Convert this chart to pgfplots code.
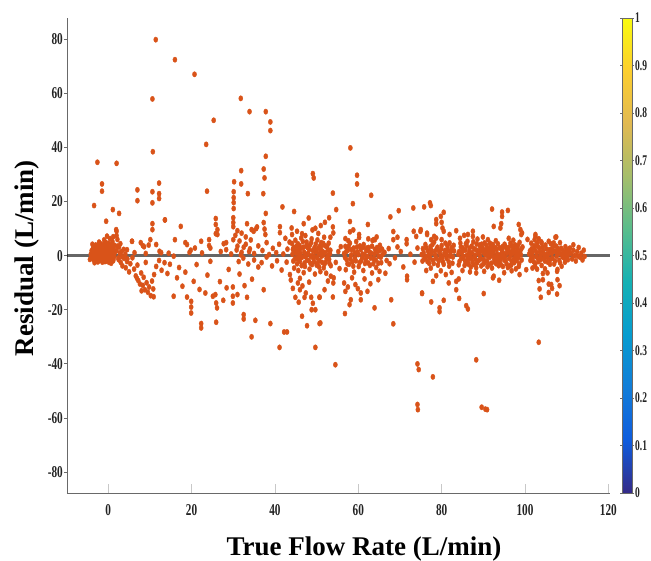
\documentclass[border=0pt]{standalone}
\usepackage{pgfplots}
\pgfplotsset{compat=1.18}
\usepackage{fontspec}
\setmainfont{Liberation Serif}
\newfontfamily\tickfont[FakeStretch=0.68]{Liberation Serif}
\newfontfamily\cbfont[FakeStretch=0.64]{Liberation Serif}
\definecolor{dotc}{RGB}{217,83,25}
\definecolor{tickc}{RGB}{35,35,35}
\definecolor{axc}{RGB}{105,105,105}
\definecolor{xtc}{RGB}{200,200,200}
\pgfplotsset{
  colormap={parula}{rgb255=(53,42,135) rgb255=(15,92,221) rgb255=(18,125,216) rgb255=(7,156,207) rgb255=(21,177,180) rgb255=(89,189,140) rgb255=(165,190,107) rgb255=(225,185,82) rgb255=(252,206,46) rgb255=(249,251,14)},
  dots/.style={only marks, mark=*, color=dotc, mark size=2.05pt, mark options={draw=dotc, fill=dotc, yscale=1.3}}
}
\begin{document}
\begin{tikzpicture}
\useasboundingbox (-67pt,-67pt) rectangle (584pt,493pt);
\begin{axis}[
  at={(0,0)}, anchor=south west,
  scale only axis, width=543pt, height=475pt,
  xmin=-9.9, xmax=120.4, ymin=-87.7, ymax=87.8,
  axis x line*=bottom, axis y line*=left,
  axis line style={axc, line width=0.9pt},
  tick align=outside, major tick length=3pt,
  every tick/.style={axc, line width=0.8pt},
  xtick style={draw=none},
  xtick={0,20,...,120}, ytick={-80,-60,...,80},
  /pgf/number format/assume math mode=true,
  tick label style={font=\tickfont\bfseries\fontsize{16.5}{18}\selectfont, text=tickc},
  xticklabel style={yshift=-5pt},
  yticklabel style={inner sep=1pt},
  xlabel={True Flow Rate (L/min)},
  ylabel={Residual (L/min)},
  label style={font=\bfseries\fontsize{27}{30}\selectfont},
  xlabel style={at={(axis description cs:0.547,0)}, anchor=base, yshift=-62pt},
  ylabel style={at={(axis description cs:-0.0626,0.494)}, anchor=base},
  colorbar, point meta min=0, point meta max=1, colormap name=parula,
  colorbar style={
    scale only axis, width=10pt, height=475pt,
    at={(parent axis.south east)}, anchor=south west, xshift=3.5pt,
    ytick={0,0.1,...,1}, ymin=0, ymax=1,
    /pgf/number format/assume math mode=true,
    yticklabel style={font=\cbfont\bfseries\fontsize{14.8}{16}\selectfont, text=tickc, /pgf/number format/fixed, /pgf/number format/assume math mode=true, inner sep=1pt},
    axis line style={axc, line width=0.6pt},
    major tick length=2pt, tick align=outside,
    every tick/.style={axc, line width=0.6pt},
  },
]
\draw[xtc, line width=0.8pt] (axis cs:0,-87.7) -- (axis cs:0,-84.4);
\draw[xtc, line width=0.8pt] (axis cs:20,-87.7) -- (axis cs:20,-84.4);
\draw[xtc, line width=0.8pt] (axis cs:40,-87.7) -- (axis cs:40,-84.4);
\draw[xtc, line width=0.8pt] (axis cs:60,-87.7) -- (axis cs:60,-84.4);
\draw[xtc, line width=0.8pt] (axis cs:80,-87.7) -- (axis cs:80,-84.4);
\draw[xtc, line width=0.8pt] (axis cs:100,-87.7) -- (axis cs:100,-84.4);
\draw[xtc, line width=0.8pt] (axis cs:120,-87.7) -- (axis cs:120,-84.4);
% cluster near 0
\addplot[dots] coordinates {
(-4.2,0.5)(-4,1.8)(-3.9,-0.8)(-3.7,2.6)(-3.6,0)(-3.5,-1.5)(-3.4,1.2)(-3.2,3.1)(-3.1,-0.3)(-3,0.9)(-2.9,-2.1)(-2.8,2)(-2.7,0.3)(-2.6,-1)(-2.5,3.6)(-2.4,1.5)(-2.3,-0.5)(-2.2,0.8)(-2.1,2.7)(-2,-1.8)(-1.9,0.1)(-1.8,1.9)(-1.7,-0.9)(-1.6,3.2)(-1.5,0.6)(-1.4,-2.4)(-1.3,1.3)(-1.2,4.1)(-1.1,-0.2)(-1,2.2)(-0.9,-1.3)(-0.8,0.7)(-0.7,3.5)(-0.6,-0.6)(-0.5,1.6)(-0.4,-2)(-0.3,2.9)(-0.2,0.2)(-0.1,-1.1)(0,1)(0.1,4.5)(0.2,-0.4)(0.3,2.4)(0.4,-1.6)(0.5,0.5)(0.6,3)(0.7,-2.8)(0.8,1.7)(0.9,-0.7)(1,5.2)(1.1,0.9)(1.2,-1.9)(1.3,2.5)(1.4,-0.1)(1.5,3.8)(1.6,1.2)(-3.8,4.2)(-2.2,5)(-1,5.8)(0.4,6.3)(1.2,7)(-0.3,7.2)(2.2,6)(2.6,3.2)(2,1.8)(2.4,-0.9)(-4.4,-1.4)(-3.3,-2.6)
(-4.1,-0.6)(-3.8,0.7)(-3.5,2.2)(-3.2,-1.3)(-2.9,0.6)(-2.6,2.5)(-2.3,-1.6)(-2,1.1)(-1.7,2.8)(-1.4,-0.4)(-1.1,1.7)(-0.8,-2.2)(-0.5,0.4)(-0.2,3.6)(0.1,-0.9)(0.4,1.4)(0.7,-0.2)(1,2.7)(1.3,-1)(-3,3.9)(-1.9,4.4)(-0.6,4.9)(0.8,4)(-2.5,-2.3)(0.2,-2.5)
(2.8,1)(3.3,-0.4)(3.7,2.3)(4.1,0.5)(4.6,-1.2)(2.2,3.5)(2.9,4.4)
(-3.4,18.5)(-0.5,12.7)(1.1,17)(2.6,15.6)(2,9)(2,7.4)(-1.5,26.5)(-1.5,23.8)(-2.6,34.5)(2,34.1)
};
% 2-44 region
\addplot[dots] coordinates {
(2.5,-1.5)(3,-2.5)(3.4,-3.8)(3.8,-1)(4.2,-4.5)(4.5,-2.2)(5,-6)(5.3,-3)(5.8,-0.8)(6.2,-5)(6.6,-7.5)(7,-3.5)(7.2,-9.2)(7.6,-10.5)(7.9,-6.4)(8.3,-11)(8.5,-8)(8.8,-12.6)(9.2,-10)(9.5,-13.5)(9.8,-11.6)(10.2,-14.8)(10.5,-9.4)(10.8,-12.3)(11,-7)(10.9,-15.2)(6.9,-8.4)(8,-13)(9,-2.5)(11.5,-4)(12.2,-1.8)(12.8,-5.4)(13.5,-2.6)(14.2,-6.6)(14.8,-3.2)(15.7,-15)(16.5,-8.2)(17,-4.4)(17.8,-11.3)(18.5,-6.1)(18.9,-15.3)(19.9,-16.9)(19.9,-19)(19.9,-21.2)(20.5,-9.5)(21.2,-3.3)(21.9,-12.5)(22.3,-25.1)(22.3,-26.7)(23.3,-13.8)(23.8,-7.2)(24.5,-2.1)(25.1,-15)(25.7,-14.4)(25.9,-17.5)(26.1,-19.3)(25.9,-24.6)(26.8,-9.6)(27.6,-16.5)(28.4,-11.9)(28.9,-5.1)(29.9,-11.6)(29.9,-15)(29.9,-17.5)(31,-14.4)(31.5,-6.8)(32.7,-11.1)(33.3,-15.4)(32.5,-21.8)(32.5,-23.4)(35.3,-23.9)(34.4,-30)(34.5,-8.7)(36,-4.2)(37.3,-12.6)(38.9,-25.1)(41.1,-33.9)(42.2,-28.2)(42.9,-28.2)
(3.2,1.5)(4.5,2.2)(5.7,5.3)(6.3,1.1)(7.8,4.8)(8.3,3.7)(8.6,3.3)(9.7,3.9)(9,0.8)(10.1,5.9)(11.5,4.1)(12.3,1.6)(12.7,1.1)(13.6,13.2)(14.5,0.9)(15.7,-0.2)(16,5.9)(17.4,10.8)(18.5,4.8)(18.9,4.1)(19.5,1.2)(19.8,2)(20.8,2.8)(22.3,5.3)(22.5,1)(24.2,5.9)(24.2,3.7)(24.5,2.8)(25.8,13.7)(25.8,11.5)(25.8,8.1)(26.2,9.6)(26.2,7.8)(27,1.5)(27.7,4.4)(28.3,4.8)(28.3,2.2)(29.5,0.6)
(7,24.3)(7,20.3)(10.6,23.6)(10.6,19.5)(12.2,26.8)(12.2,22.9)(12.2,21.1)(10.6,11.8)(10.6,9.6)(10.7,38.4)(10.6,57.9)(11.4,79.8)(16,72.4)(20.7,67)(23.5,41.1)(23.7,23.8)(25.3,50)(13.6,13.2)(5.7,5.3)(1.9,9.6)
(30.2,27.3)(31.9,31.4)(31.9,26.5)(30.1,23.6)(30.1,21.4)(30.1,19.6)(30.1,17.4)(33.5,22.9)(30,14)(30,12.2)(30,10.7)(30,5.9)(33.3,11.8)(34.4,9.6)(35.5,10)(31.8,58.1)(33.9,53.2)(37.8,53.2)(38.9,49.4)(38.9,46.2)(37.8,36.7)(37.3,32)(37.5,28.7)(37.2,22.9)(37.8,15.6)(41.8,18)(44.6,16.3)(35.7,10.6)(34.9,9)(37.3,12.2)(37.5,9.8)(37.7,7.8)(41.2,10.7)(41.2,8.5)(42.5,6.4)(44.1,7.8)(45.3,9)(46.5,8.1)
(31,3.5)(32,1.2)(33,4.2)(34,2.5)(35,0.8)(36,3.6)(37,1.9)(38,4.8)(38.6,0.4)(39.5,2.7)(40.3,1.1)(41,4.2)(42,0.6)(43,2.4)(43.5,5)
(30.5,7.5)(31,9.2)(31.5,5.4)(32,8.3)(32.5,3.1)(33,6.9)(30.8,2.1)(31.8,0.3)(33.8,1.5)(34.2,5.8)
(31.3,-2.2)(32.4,-0.9)(33.6,-3.1)(35,-1.6)(36.8,-2.6)(38,-0.5)(39.3,-3.8)(40.5,-1.9)(41.6,-5.3)(42.8,-2.4)(43.6,-7)
};
% 44-75 region
\addplot[dots] coordinates {
(44.2,0.5)(44.5,3.1)(44.8,-1.2)(45,1.8)(45.3,-3)(45.5,4.4)(45.8,0.2)(46,-2.1)(46.2,2.6)(46.5,-0.6)(46.7,5.2)(47,1.3)(47.2,-4)(47.5,3.5)(47.7,-1.6)(48,0.8)(48.2,2.2)(48.5,-2.8)(48.7,4.8)(49,0)(49.2,-1)(49.5,3)(49.7,1.4)(50,-3.5)(50.2,5.8)(50.5,0.6)(50.7,-1.8)(51,2.5)(51.2,-0.2)(51.5,4)(51.7,-4.5)(52,1.1)(52.2,-2.3)(52.5,3.3)(52.8,0.3)(53,-1.4)(53.3,2)(44.6,-4.6)(45.6,-5.5)(46.9,-6.3)(48.3,-5)(49.6,-6.8)(50.9,-5.9)(52.3,-6.5)(44.9,5.7)(46.3,6.5)(48.8,6.2)(51.8,6.8)(45.1,0.9)(46.1,-0.9)(47.1,-2.7)(47.9,2.9)(48.9,-3.3)(49.9,1.9)(50.8,3.6)(51.9,-3.1)(52.9,4.6)(53.4,-3.7)(44.3,2.3)(45.9,3.7)(47.4,0.4)(49.3,-0.4)(50.3,-2.6)(51.4,1.6)(52.6,-0.8)
(44.4,-2)(44.7,1.2)(45.2,3.5)(45.4,-1.1)(45.7,2)(46.1,0.9)(46.4,-3.7)(46.8,3.1)(47.3,-0.4)(47.6,5)(47.8,0.6)(48.1,-1.8)(48.4,3.9)(48.6,-0.2)(49.1,1.9)(49.4,-2.2)(49.8,4.3)(50.1,-0.7)(50.4,2.7)(50.6,-4.2)(50.9,1)(51.1,4.8)(51.3,-2.5)(51.6,0.3)(52.1,3.6)(52.4,-1)(52.7,2.2)(53.1,-2.9)(53.2,0.7)(44.1,4.5)
(44.9,-15.4)(45.5,-10.1)(46,-12.6)(46,-8.4)(46.5,-22.4)(47.1,-15.4)(47.7,-25.9)(48.2,-9.8)(48.7,-15.4)(49.1,-17.6)(49.7,-20)(49.7,-33.9)(50.7,-15.4)(50.7,-25.1)(51.9,-12.6)(53.9,-15.3)(54,-10.1)(54.1,-8.2)(50.9,-24.9)(46.6,-11.2)(47.4,-13.8)(45.7,-17.2)(43.8,-9)(44.3,-12.1)(52.7,-9.4)(53.4,-7.6)(48.8,-20)(50.7,-15.3)
(48.1,13.9)(46.9,11.8)(53,14)(52,12.3)(51,11.1)(49.7,10.1)(49,9.5)(53.9,10.6)(49.1,30.3)(49.3,28.7)(53.9,23.1)(54.7,17)(51.6,4.5)(53.3,6.8)(54,8.4)(55.2,1.5)(47.3,7.4)(50.4,8.2)(44,10.2)(55.8,3.3)(54.6,-2.5)(55.5,-4.8)
(56.6,0.8)(56.9,3.4)(56.9,6.3)(57.2,-1.5)(57.5,2)(57.8,-3.2)(58,4.6)(58.3,0.2)(58.6,-2.3)(58.9,2.8)(59.2,-0.8)(59.5,5.2)(59.8,1.3)(60.1,-4)(60.4,3.6)(60.7,-1.9)(61,0.6)(61.3,4.1)(61.6,-2.9)(61.9,1.8)(62.2,-0.4)(62.5,3)(62.8,-3.6)(63.1,0.9)(63.4,5.6)(63.7,-1.2)(64,2.3)(64.3,-4.4)(64.6,1.5)(64.9,-0.2)(65.2,3.8)(65.5,-2.6)(65.8,0.4)(57,-5.2)(59,-6.1)(61.2,-5.5)(63.3,-6.4)(65.1,-5.8)(57.6,5.5)(60.2,6.7)(62.4,6.2)(64.4,6.9)(58,8.8)(60.2,7.8)(63.7,5.9)(62.3,11.5)(59.7,29.7)(59.7,26.5)(58.1,39.8)(58.7,19.2)(63.1,22.3)(58.8,9.5)(58,12.6)(66.3,1.2)(66.8,-1.8)(67.3,2.6)
(56.8,-0.7)(57.1,1.5)(57.4,-3)(57.7,3.5)(58.1,-1.2)(58.4,2.2)(58.8,-3.9)(59.1,1.1)(59.4,-1.9)(59.7,3.2)(60,0.4)(60.3,-2.6)(60.6,2.3)(60.9,-0.9)(61.2,3.1)(61.5,0.2)(61.8,-1.5)(62.1,2.8)(62.4,-2.7)(62.7,1.3)(63,-0.9)(63.3,3.5)(63.6,-3)(63.9,0.6)(64.2,-1.6)(64.5,3)(64.8,-2.8)(65.1,1.9)(65.4,-0.6)(65.7,2.4)
(56.8,-21.4)(57.9,-18.1)(58.2,-16.3)(60.6,-16.3)(62.2,-13.2)(60.6,-13.8)(59.3,-10.7)(56.9,-13.2)(56.6,-10.1)(63.9,-19.3)(61.5,-8.6)(58.5,-8.2)(62.9,-10.4)(64.8,-8.9)(54.5,-40.3)(57.5,-11.6)(59.9,-12.2)
(67.7,14.3)(68.4,8.9)(68.4,5.9)(69.4,6.8)(69.4,3.2)(69.7,16.6)(71.6,5.9)(71.6,4.4)(73.2,17.6)(73.3,9)(73.9,7.1)(75,9.6)(76.5,8.3)(64,5.9)(67.5,-3)(68.8,-0.8)(70.2,1.5)(70.8,-4.2)(71.7,-7.6)(71.7,-8.9)(72.5,0.5)(73.5,-2.4)(74.2,2.8)(67.9,-16.3)(68.4,-25.2)(74.2,-40)(74.5,-42.1)(74.2,-55)(74.3,-56.9)(75.3,-14)(66.5,-6.5)
};
% 75-115 region
\addplot[dots] coordinates {
(75.2,0.4)(75.5,2.6)(75.8,-1.3)(76.1,4.1)(76.4,-0.3)(76.7,1.8)(77,-2.8)(77.3,3.3)(77.6,0.9)(77.9,-1.7)(78.2,5)(78.5,0.1)(78.8,2.4)(79.1,-3.5)(79.4,1.4)(79.7,-0.8)(80,3.7)(80.3,-2.2)(80.6,0.6)(80.9,4.6)(81.2,-1)(81.5,2)(81.8,-3.9)(82.1,1.1)(82.4,3)(82.7,-0.5)(83,1.7)(75.8,18)(77.2,19.5)(77.4,18.5)(80.5,16)(78.7,13.3)(78.7,11.8)(79.8,14.5)(80,12.3)(80.2,10.2)(80.5,9)(74.9,9)(76.5,7.8)(77.5,5.9)(78.2,7.1)(78.7,6.5)(80,5.9)(81.9,7.8)(81.9,4.7)(83.5,9.2)
(75.4,-2)(75.7,1)(76,-0.9)(76.3,2.9)(76.6,-2.2)(76.9,0.3)(77.2,-0.9)(77.5,2.1)(77.8,4.1)(78.1,-2.9)(78.4,1.6)(78.7,-1)(79,3.1)(79.3,-2)(79.6,0.8)(79.9,2.4)(80.2,-0.6)(80.5,-3.2)(80.8,1.9)(81.1,0.4)(81.4,3.5)(81.7,-2.3)(82,-0.2)(82.3,1.9)(82.6,-2.8)(82.9,3.8)
(77.4,-4.6)(78.7,-7.4)(77.9,-9.5)(75.3,-13.8)(77.5,-17.1)(79.5,-19.3)(79.5,-20.7)(80.5,-16.5)(82.4,-6.2)(81.7,-10.1)(83.5,-9.5)(84.1,-8.6)(83.5,-12.6)(84.2,-15.8)(85.9,-18.5)(86.3,-19.7)(77.9,-44.8)(76.3,-5.5)(79.8,-5.6)(81,-7)
(84,0.5)(84.3,-2.1)(84.6,3.2)(84.9,-0.8)(85.2,1.9)(85.5,-3.6)(85.8,4.4)(86.1,0.2)(86.4,-1.5)(86.7,2.7)(87,-4.2)(87.3,1.1)(87.6,5.1)(87.9,-0.4)(88.2,2.2)(88.5,-2.7)(88.8,0.8)(89.1,3.9)(89.4,-1.2)(89.7,1.6)(90,-3.1)(90.3,4.7)(90.6,0.3)(90.9,-1.9)(91.2,2.5)(91.5,-0.6)(91.8,3.4)(92.1,-4.6)(92.4,1.3)(92.7,-2.4)(93,5.5)(93.3,0.7)(93.6,-1)(93.9,2.9)(94.2,-3.3)(94.5,1.8)(94.8,-0.2)(95.1,4.2)(95.4,-2)(95.7,0.9)(96,2.3)(96.3,-3.8)(96.6,0.1)(96.9,3.6)(97.2,-1.4)(97.5,1.5)(97.8,-4.9)(98.1,2.6)(98.4,-0.7)(98.7,4.9)(99,0.4)
(84.2,1.5)(84.7,-1)(85.1,2.8)(85.6,-1.9)(86,3.8)(86.5,-3.2)(86.9,0.6)(87.4,-2.3)(87.8,2.6)(88.3,-4.5)(88.7,1.7)(89.2,-0.2)(89.6,4.2)(90.1,-1.4)(90.5,2.1)(91,-4.1)(91.4,0.9)(91.9,-2.8)(92.3,4.1)(92.8,-0.5)(93.2,2.3)(93.7,-3.7)(94.1,0.4)(94.6,3.3)(95,-1.6)(95.5,2.8)(95.9,-4.4)(96.4,1.2)(96.8,-2.2)(97.3,3.1)(97.7,-0.3)(98.2,1)(98.6,-3)(99.1,2.4)
(84.1,-3.4)(84.5,4.6)(84.8,1)(85.3,-0.3)(85.7,2.1)(85.9,-2.7)(86.2,5.3)(86.6,1.4)(87.1,-1)(87.2,3.5)(87.7,-3.3)(88,0.1)(88.4,4.3)(88.9,-1.8)(89,1.2)(89.5,-3.8)(89.8,3)(90.2,0.9)(90.4,-2.5)(90.8,3.8)(91.1,-0.1)(91.3,-3.4)(91.7,1.8)(92,0)(92.2,3)(92.6,-1.3)(92.9,2.9)(93.1,-3)(93.5,4.4)(93.8,0)(94,-1.9)(94.4,2.3)(94.7,-4)(94.9,0.8)(95.2,-0.7)(95.3,3.4)(95.6,-3.1)(95.8,1.6)(96.2,-1)(96.5,4.6)(96.7,-3.5)(97,0.9)(97.1,2.2)(97.4,-2.6)(97.6,4)(97.9,0.5)(98,-1.8)(98.3,3.7)(98.5,-4)(98.8,1.6)(99.2,-1.6)(99.4,3.2)(88.1,-1.3)(90.7,1.2)(93.4,-2)(96.1,3)(86.3,-0.9)(89.3,2.9)(91.6,4.6)(94.3,-0.8)
(84.4,6.4)(85.4,7.5)(86.3,7.8)(87.5,9)(87.5,7.1)(88.6,6.1)(89.9,6.9)(91.1,5.9)(92.5,10.8)(94.1,10.2)(94.3,11.8)(92.1,17.2)(94.5,16.1)(94.5,14.5)(95.9,16.7)(96.1,6.4)(97.2,5.7)(98.5,11.5)(98.9,9.6)(99.1,7.8)(99.3,8.4)(100.6,6)
(85,-5.5)(86.8,-6)(88.3,-6.4)(90.2,-5.8)(92.3,-8.2)(93.8,-9.1)(92.5,-7.6)(95,-6.3)(96.8,-5.6)(98.7,-7)(100.3,-5.2)(90.1,-14)(88.3,-38.5)(89.6,-56)(90.5,-56.7)(90.9,-56.9)
(101,0.6)(101.3,-1.8)(101.6,2.5)(101.9,-0.5)(102.2,3.6)(102.5,-2.9)(102.8,1.2)(103.1,-1.1)(103.4,2.9)(103.7,0.1)(104,-3.6)(104.3,1.8)(104.6,-0.7)(104.9,3.9)(105.2,0.4)(105.5,-2.4)(105.8,2.2)(106.1,-1.4)(106.4,0.9)(106.7,3.1)(107,-3.1)(107.3,1.5)(107.6,-0.2)(107.9,2.6)(108.2,-1.7)(108.5,0.7)(108.8,-3.9)(109.1,1.9)(109.4,-0.9)(109.7,3.3)(110,0.2)(110.3,-1.5)(110.6,1.1)(101.5,4.6)(103.9,5.1)(106.2,4.4)(108.4,4.8)(102.5,7.1)(102.3,5.9)(102.9,4.7)(105.7,5.3)(107.3,6.8)(102.5,7.8)(103.3,6.2)(104,4.7)(107.5,6.9)(106.9,4.7)
(101.2,1.8)(101.5,-0.8)(101.8,1)(102.1,-2.3)(102.4,2.2)(102.7,-0.4)(103,3.6)(103.3,-2.2)(103.6,1.4)(103.9,-1.3)(104.2,3.1)(104.5,0.7)(104.8,-2)(105.1,2.5)(105.4,-0.6)(105.7,0.8)(106,-3.2)(106.3,2.3)(106.6,-0.9)(106.9,1.6)(107.2,-2)(107.5,3.5)(107.8,0.5)(108.1,1.5)(108.4,-2.6)(108.7,2.7)(109,-0.5)(109.3,0.9)(109.6,-2.4)(109.9,1.8)(110.2,-0.3)(110.5,2.4)
(101.8,-4.6)(104.8,-4.9)(107.8,-5.1)(102.4,-4)(102.9,-5)(104.3,-6.6)(105.4,-6.4)(104.3,-8.9)(103.3,-9.2)(103.5,-12.3)(103.8,-15.4)(105.7,-10.5)(105.7,-13.6)(106.3,-10.7)(106.5,-12.1)(107.7,-5.8)(107.8,-8.9)(108.3,-11.1)(107.7,-14.2)(103.3,-32)
(111,0.8)(111.3,-1.2)(111.6,2)(111.6,4)(111.9,0)(112.2,-2)(112.5,1.5)(112.9,3)(113.2,-0.6)(113.5,0.9)(113.8,-1.6)(114.1,2)(114.3,-0.3)(110.8,2.8)(112.7,-0.2)
};
\addplot[no marks, black, opacity=0.6, line width=2.6pt] coordinates {(-9.9,0)(120.4,0)};
\end{axis}
\end{tikzpicture}
\end{document}
